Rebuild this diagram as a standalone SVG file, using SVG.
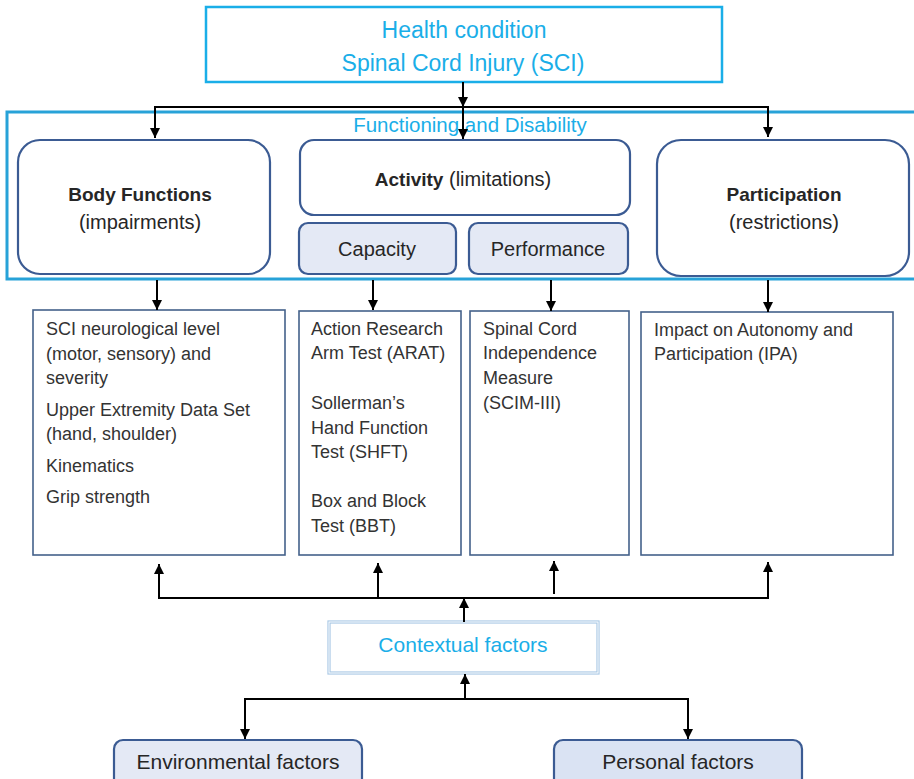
<svg xmlns="http://www.w3.org/2000/svg" width="914" height="779" viewBox="0 0 914 779">
<style>
text{font-family:"Liberation Sans",Arial,sans-serif;}
.cyan{fill:#1aaee8;}
.dark{fill:#262626;}
.body{fill:#333;font-size:18px;}
.rbox{fill:#fff;stroke:#3b5b93;stroke-width:2.2;}
.sub{fill:#e4e9f5;stroke:#3b5b93;stroke-width:2.2;}
.mbox{fill:#fff;stroke:#44618a;stroke-width:1.6;}
.conn line,.conn path{stroke:#000;stroke-width:2;fill:none;}
</style>
<defs>
<marker id="ah" markerUnits="userSpaceOnUse" markerWidth="10" markerHeight="10" refX="10" refY="5" orient="auto">
<path d="M0,0 L10,5 L0,10 z" fill="#000"/>
</marker>
</defs>
<rect width="914" height="779" fill="#fff"/>

<g id="health">
<rect x="206" y="7" width="516" height="75" fill="#fff" stroke="#1aaee8" stroke-width="2.5"/>
<text x="464" y="38" text-anchor="middle" class="cyan" font-size="23">Health condition</text>
<text x="463" y="71" text-anchor="middle" class="cyan" font-size="23">Spinal Cord Injury (SCI)</text>
</g>

<g id="functioning">
<rect x="7" y="112" width="920" height="167" fill="none" stroke="#27a2d8" stroke-width="3"/>
<text x="470" y="132" text-anchor="middle" class="cyan" font-size="20.5">Functioning and Disability</text>
</g>

<g id="body-functions">
<rect x="18" y="140" width="252" height="134" rx="22" class="rbox"/>
<text x="140" y="201" text-anchor="middle" class="dark" font-size="19" font-weight="bold">Body Functions</text>
<text x="140" y="229" text-anchor="middle" class="dark" font-size="20">(impairments)</text>
</g>

<g id="activity">
<rect x="300" y="140" width="330" height="75" rx="14" class="rbox"/>
<text x="463" y="186" text-anchor="middle" class="dark" font-size="20"><tspan font-weight="bold" font-size="19">Activity</tspan> (limitations)</text>
</g>

<g id="capacity">
<rect x="299" y="223" width="157" height="51" rx="9" class="sub"/>
<text x="377" y="256" text-anchor="middle" class="dark" font-size="20">Capacity</text>
</g>

<g id="performance">
<rect x="469" y="223" width="159" height="51" rx="9" class="sub"/>
<text x="548" y="256" text-anchor="middle" class="dark" font-size="20">Performance</text>
</g>

<g id="participation">
<rect x="657" y="140" width="252" height="136" rx="24" class="rbox"/>
<text x="784" y="201" text-anchor="middle" class="dark" font-size="19" font-weight="bold">Participation</text>
<text x="784" y="229" text-anchor="middle" class="dark" font-size="20">(restrictions)</text>
</g>

<g id="body-measures">
<rect x="33" y="310" width="252" height="245" class="mbox"/>
<text class="body" x="46" y="335">SCI neurological level</text>
<text class="body" x="46" y="360">(motor, sensory) and</text>
<text class="body" x="46" y="384">severity</text>
<text class="body" x="46" y="416">Upper Extremity Data Set</text>
<text class="body" x="46" y="440">(hand, shoulder)</text>
<text class="body" x="46" y="472">Kinematics</text>
<text class="body" x="46" y="503">Grip strength</text>
</g>

<g id="capacity-measures">
<rect x="299" y="311" width="162" height="244" class="mbox"/>
<text class="body" x="311" y="335">Action Research</text>
<text class="body" x="311" y="359">Arm Test (ARAT)</text>
<text class="body" x="311" y="409">Sollerman’s</text>
<text class="body" x="311" y="434">Hand Function</text>
<text class="body" x="311" y="458">Test (SHFT)</text>
<text class="body" x="311" y="507">Box and Block</text>
<text class="body" x="311" y="532">Test (BBT)</text>
</g>

<g id="performance-measures">
<rect x="470" y="311" width="159" height="244" class="mbox"/>
<text class="body" x="483" y="335">Spinal Cord</text>
<text class="body" x="483" y="359">Independence</text>
<text class="body" x="483" y="384">Measure</text>
<text class="body" x="483" y="409">(SCIM-III)</text>
</g>

<g id="participation-measures">
<rect x="641" y="312" width="252" height="243" class="mbox"/>
<text class="body" x="654" y="336">Impact on Autonomy and</text>
<text class="body" x="654" y="360">Participation (IPA)</text>
</g>

<g id="contextual">
<rect x="329" y="622" width="269" height="51" fill="#fff" stroke="#a7c7e4" stroke-width="3.2"/>
<rect x="329" y="622" width="269" height="51" fill="none" stroke="#fff" stroke-width="1"/>
<text x="463" y="652" text-anchor="middle" class="cyan" font-size="21">Contextual factors</text>
</g>

<g id="environmental">
<rect x="114" y="740" width="248" height="50" rx="9" fill="#e4e9f5" stroke="#3b5b93" stroke-width="2.2"/>
<text x="238" y="769" text-anchor="middle" class="dark" font-size="21">Environmental factors</text>
</g>

<g id="personal">
<rect x="554" y="740" width="248" height="50" rx="9" fill="#dae3f3" stroke="#3b5b93" stroke-width="2.2"/>
<text x="678" y="769" text-anchor="middle" class="dark" font-size="21">Personal factors</text>
</g>

<g id="connectors" class="conn">
<line x1="463" y1="82" x2="463" y2="107" marker-end="url(#ah)"/>
<line x1="154" y1="107" x2="769" y2="107"/>
<line x1="155" y1="107" x2="155" y2="138" marker-end="url(#ah)"/>
<line x1="463" y1="107" x2="463" y2="139" marker-end="url(#ah)"/>
<line x1="768" y1="107" x2="768" y2="137" marker-end="url(#ah)"/>

<line x1="157" y1="280" x2="157" y2="310" marker-end="url(#ah)"/>
<line x1="373" y1="280" x2="373" y2="310" marker-end="url(#ah)"/>
<line x1="551" y1="280" x2="551" y2="311" marker-end="url(#ah)"/>
<line x1="768" y1="280" x2="768" y2="312" marker-end="url(#ah)"/>

<line x1="158" y1="598" x2="769" y2="598"/>
<line x1="159" y1="598" x2="159" y2="564" marker-end="url(#ah)"/>
<line x1="378" y1="598" x2="378" y2="563" marker-end="url(#ah)"/>
<line x1="554" y1="594" x2="554" y2="561" marker-end="url(#ah)"/>
<line x1="768" y1="598" x2="768" y2="562" marker-end="url(#ah)"/>
<line x1="464" y1="622" x2="464" y2="598" marker-end="url(#ah)"/>

<line x1="465" y1="699" x2="465" y2="674" marker-end="url(#ah)"/>
<line x1="244" y1="699" x2="689" y2="699"/>
<line x1="245" y1="699" x2="245" y2="739" marker-end="url(#ah)"/>
<line x1="688" y1="699" x2="688" y2="739" marker-end="url(#ah)"/>
</g>
</svg>
